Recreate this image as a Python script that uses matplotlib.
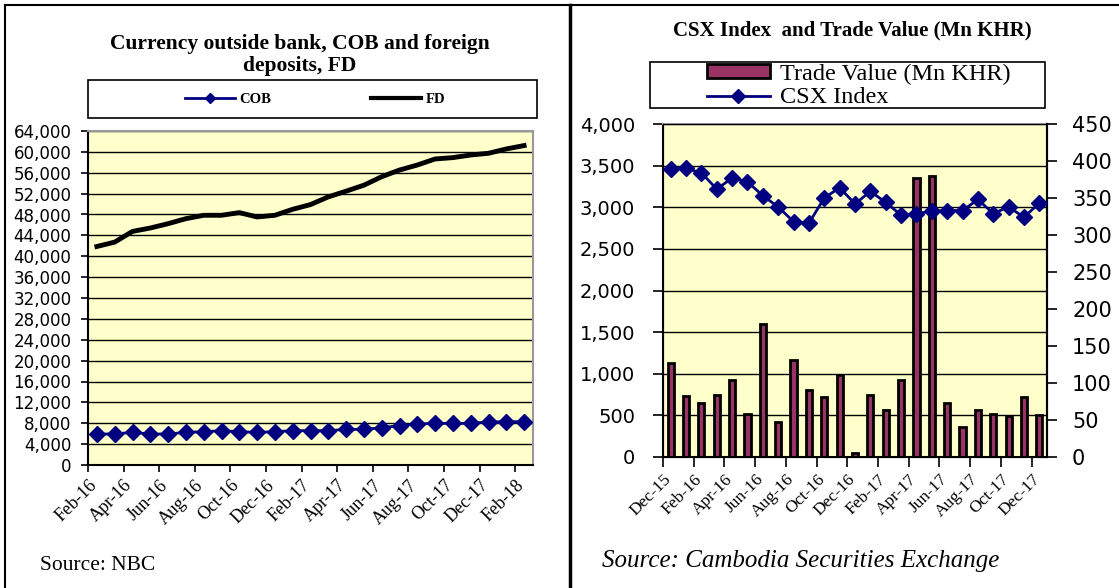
import matplotlib
matplotlib.use("Agg")
import matplotlib.pyplot as plt
import matplotlib.transforms as mtransforms
from matplotlib.lines import Line2D
from matplotlib.patches import Patch, Rectangle
from matplotlib.ticker import FuncFormatter

# =====================
# data
# =====================
left_ticklabels = ["Feb-16", "Apr-16", "Jun-16", "Aug-16", "Oct-16", "Dec-16", "Feb-17",
                   "Apr-17", "Jun-17", "Aug-17", "Oct-17", "Dec-17", "Feb-18"]
cob = [5940, 5940, 6260, 5940, 5940, 6260, 6380, 6580, 6380, 6260, 6380, 6580, 6580,
       6580, 6830, 6830, 7150, 7530, 7850, 7980, 7980, 7980, 8240, 8300, 8300]
fd = [41870, 42710, 44760, 45410, 46240, 47200, 47850, 47850, 48360, 47530, 47850, 49000,
      49900, 51380, 52470, 53620, 55240, 56520, 57480, 58640, 58900, 59400, 59730, 60560, 61210]

right_ticklabels = ["Dec-15", "Feb-16", "Apr-16", "Jun-16", "Aug-16", "Oct-16", "Dec-16",
                    "Feb-17", "Apr-17", "Jun-17", "Aug-17", "Oct-17", "Dec-17"]
trade_value = [1130, 730, 650, 750, 930, 520, 1600, 425, 1160, 800, 720, 980, 50,
               750, 570, 930, 3350, 3370, 650, 360, 570, 520, 490, 720, 510]
csx_index = [389, 390, 384, 362, 377, 372, 353, 338, 318, 316, 350, 364, 342,
             359, 344, 327, 329, 332, 333, 333, 348, 329, 338, 324, 343]

SERIF = "Liberation Serif"
SANS = "DejaVu Sans"
BG = "#FFFFCC"
NAVY = "#000080"
MAROON = "#993366"

fig = plt.figure(figsize=(11.19, 5.88), dpi=100)
W, H = 1119, 588


def box(x0, y0, x1, y1):
    # pixel box -> figure fraction [left, bottom, width, height]
    return [x0 / W, 1 - y1 / H, (x1 - x0) / W, (y1 - y0) / H]


def frame(x0, y0, x1, y1):
    b = box(x0, y0, x1, y1)
    fig.add_artist(Rectangle((b[0], b[1]), b[2], b[3], transform=fig.transFigure,
                             facecolor="white", edgecolor="black", lw=1.2, zorder=1))


comma = FuncFormatter(lambda v, p: f"{int(v):,}")
shift = mtransforms.ScaledTranslation(7 / 100, 0, fig.dpi_scale_trans)

# =====================
# left chart
# =====================
ax = fig.add_axes(box(88, 131, 533, 465))
ax.set_facecolor(BG)
x = list(range(len(fd)))
ax.plot(x, cob, color=NAVY, lw=2, marker="D", ms=8, zorder=3)
ax.plot(x, fd, color="black", lw=3.5, zorder=3)
ax.set_xlim(-0.5, len(fd) - 0.5)
ax.set_ylim(0, 64000)
ax.set_yticks(range(0, 64001, 4000))
ax.yaxis.set_major_formatter(comma)
ax.grid(axis="y", color="black", lw=1)
ax.set_axisbelow(True)
ax.set_xticks([i * 2 - 0.5 for i in range(len(left_ticklabels))])
ax.set_xticklabels(left_ticklabels, rotation=45, ha="right", rotation_mode="anchor",
                   family=SERIF, fontsize=13)
for lab in ax.get_xticklabels():
    lab.set_transform(lab.get_transform() + shift)
for lab in ax.get_yticklabels():
    lab.set_family(SANS)
    lab.set_fontsize(12)
ax.tick_params(axis="both", direction="out", length=5, width=1.2, colors="black")
ax.tick_params(axis="y", pad=7)
for s in ["top", "right"]:
    ax.spines[s].set_color("#999999")
    ax.spines[s].set_linewidth(1.5)
for s in ["left", "bottom"]:
    ax.spines[s].set_linewidth(1.5)

fig.text(300 / W, 1 - 55 / H, "Currency outside bank, COB and foreign\ndeposits, FD",
         ha="center", va="center", family=SERIF, weight="bold", fontsize=15.5, linespacing=1.15)
frame(88, 80, 537, 118)
leg = fig.legend(handles=[Line2D([], [], color=NAVY, lw=2, marker="D", ms=5),
                          Line2D([], [], color="black", lw=3)],
                 labels=["COB", "FD"], ncol=2, loc="center",
                 bbox_to_anchor=(315 / W, 1 - 99 / H), frameon=False,
                 handlelength=3.4, columnspacing=6.9,
                 prop={"family": SERIF, "weight": "bold", "size": 10.5},
                 handletextpad=0.3)
leg.set_zorder(2)
fig.text(40 / W, 1 - 566 / H, "Source: NBC", ha="left", va="center", family=SERIF, fontsize=15.5)

# =====================
# right chart
# =====================
bx = fig.add_axes(box(663, 124, 1047, 457))
bx.set_facecolor(BG)
xr = list(range(len(trade_value)))
bx.bar(xr, trade_value, width=0.4, color=MAROON, edgecolor="black", linewidth=2, zorder=2)
bx.set_xlim(-0.5, len(trade_value) - 0.5)
bx.set_ylim(0, 4000)
bx.set_yticks(range(0, 4001, 500))
bx.yaxis.set_major_formatter(comma)
bx.grid(axis="y", color="black", lw=1)
bx.set_axisbelow(True)
bx.set_xticks([i * 2 - 0.5 for i in range(len(right_ticklabels))])
bx.set_xticklabels(right_ticklabels, rotation=45, ha="right", rotation_mode="anchor",
                   family=SERIF, fontsize=12.5)
for lab in bx.get_xticklabels():
    lab.set_transform(lab.get_transform() + shift)
for lab in bx.get_yticklabels():
    lab.set_family(SANS)
    lab.set_fontsize(14)
bx.tick_params(axis="both", direction="out", length=7, width=1.2, colors="black")
bx.tick_params(axis="y", pad=13)
bx.spines["top"].set_color("#999999")
bx.spines["top"].set_linewidth(1.5)
for s in ["left", "bottom", "right"]:
    bx.spines[s].set_linewidth(1.5)

tx = bx.twinx()
tx.plot(xr, csx_index, color=NAVY, lw=2, marker="D", ms=8.5, zorder=3)
tx.set_ylim(0, 450)
tx.set_yticks(range(0, 451, 50))
for lab in tx.get_yticklabels():
    lab.set_family(SANS)
    lab.set_fontsize(15)
tx.tick_params(axis="y", direction="out", length=7, width=1.2, pad=11)
tx.spines["right"].set_linewidth(1.5)

fig.text(852 / W, 1 - 30 / H, "CSX Index  and Trade Value (Mn KHR)", ha="center", va="center",
         family=SERIF, weight="bold", fontsize=15)
frame(650, 62, 1045, 108)
leg2 = fig.legend(handles=[Patch(facecolor=MAROON, edgecolor="black", lw=2),
                           Line2D([], [], color=NAVY, lw=2, marker="D", ms=7)],
                  labels=["Trade Value (Mn KHR)", "CSX Index"], ncol=1, loc="center left",
                  bbox_to_anchor=(692 / W, 1 - 86 / H), frameon=False,
                  handlelength=2.6, handleheight=0.5,
                  prop={"family": SERIF, "size": 17.5}, borderpad=0.1, labelspacing=0.1,
                  handletextpad=0.4)
leg2.set_zorder(2)
fig.text(602 / W, 1 - 561 / H, "Source: Cambodia Securities Exchange", ha="left", va="center",
         family=SERIF, style="italic", fontsize=18)

# =====================
# table borders
# =====================
fig.add_artist(Line2D([5 / W, 1], [1 - 5 / H, 1 - 5 / H], color="black", lw=1.5))
fig.add_artist(Line2D([5 / W, 5 / W], [0, 1 - 5 / H], color="black", lw=1.5))
fig.add_artist(Line2D([570 / W, 570 / W], [0, 1 - 5 / H], color="black", lw=2.5))

fig.savefig("out.png", dpi=100)
